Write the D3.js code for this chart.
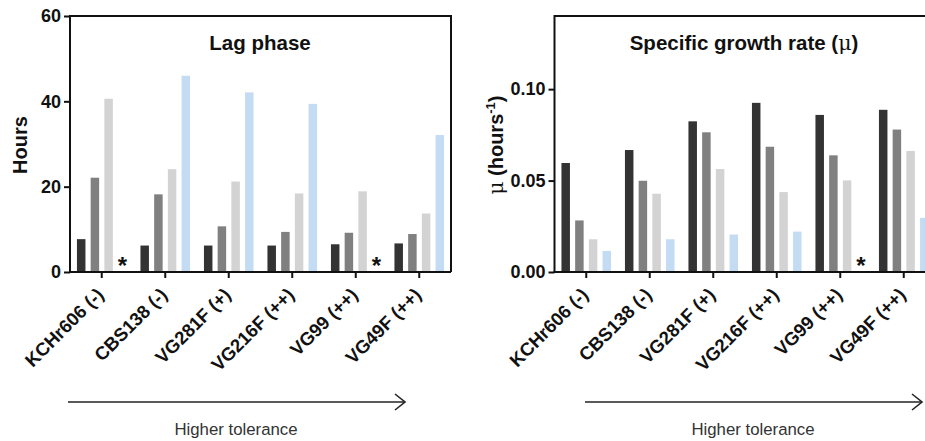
<!DOCTYPE html>
<html>
<head>
<meta charset="utf-8">
<script src="https://cdn.jsdelivr.net/npm/d3@7"></script>
<style>
  html, body { margin: 0; padding: 0; background: #fff; }
  svg { display: block; }
  text { font-family: "Liberation Sans", Arial, sans-serif; }
</style>
</head>
<body>
<svg id="chart" width="925" height="441"></svg>
<script>
// ---- data ----
const strains = ["KCHr606 (-)", "CBS138 (-)", "VG281F (+)", "VG216F (++)", "VG99 (++)", "VG49F (++)"];
const seriesNames = ["Condition 1", "Condition 2", "Condition 3", "Condition 4"];
const seriesColors = ["#333333", "#808080", "#d3d3d3", "#c4dbf4"];
// Lag phase (hours); null = no growth (*)
const lagS1 = [7.7, 6.2, 6.2, 6.2, 6.5, 6.7];
const lagS2 = [22.1, 18.2, 10.7, 9.4, 9.2, 8.9];
const lagS3 = [40.6, 24.1, 21.2, 18.4, 18.9, 13.7];
const lagS4 = [null, 46.0, 42.1, 39.4, null, 32.1];
// Specific growth rate (hours^-1)
const muS1 = [0.0596, 0.0667, 0.0824, 0.0925, 0.0859, 0.0887];
const muS2 = [0.0282, 0.0499, 0.0764, 0.0685, 0.0638, 0.0779];
const muS3 = [0.0179, 0.0428, 0.0563, 0.0437, 0.0501, 0.0662];
const muS4 = [0.0115, 0.0179, 0.0205, 0.0221, null, 0.0296];
const lagTicks = [0, 20, 40, 60];
const muTicks = [0, 0.05, 0.10];

const svg = d3.select("#chart");

function panel(opts) {
  const { x0, x1, yTop, yBot, domain, ticks, fmt, series, title, titleX, yLabel, yLabelX, frameRight, arrow } = opts;
  const g = svg.append("g");
  const x = d3.scaleBand().domain(strains).range([x0, x1]).paddingInner(0).paddingOuter(0);
  const xs = d3.scaleBand().domain(seriesNames).range([0, x.bandwidth()]).paddingInner(0.38).paddingOuter(0.507);
  const y = d3.scaleLinear().domain(domain).range([yBot, yTop]);

  // bars
  seriesNames.forEach((s, si) => {
    const vals = series[si];
    strains.forEach((c, ci) => {
      const v = vals[ci];
      const bx = x(c) + xs(s);
      if (v == null) {
        g.append("text").attr("x", bx + xs.bandwidth() / 2).attr("y", yBot + 2)
          .attr("text-anchor", "middle").attr("font-size", 24).attr("font-weight", "bold")
          .attr("fill", "#111").text("*");
      } else {
        g.append("rect").attr("x", bx).attr("y", y(v)).attr("width", xs.bandwidth())
          .attr("height", y(0) - y(v)).attr("fill", seriesColors[si]);
      }
    });
  });

  // frame (top, right)
  g.append("line").attr("x1", x0).attr("x2", x1).attr("y1", yTop).attr("y2", yTop)
    .attr("stroke", "#111").attr("stroke-width", 2);
  if (frameRight) {
    g.append("line").attr("x1", x1).attr("x2", x1).attr("y1", yTop - 1).attr("y2", yBot)
      .attr("stroke", "#111").attr("stroke-width", 2);
  }

  // y axis
  const ya = g.append("g").attr("transform", `translate(${x0},0)`)
    .call(d3.axisLeft(y).tickValues(ticks).tickFormat(fmt).tickSize(6).tickPadding(3));
  ya.select(".domain").attr("stroke", "#111").attr("stroke-width", 2).attr("d", `M0,${yTop - 1}V${yBot}`);
  ya.selectAll(".tick line").attr("stroke", "#111").attr("stroke-width", 2);
  ya.selectAll(".tick text").attr("font-size", 18).attr("font-weight", "bold")
    .attr("fill", "#111").attr("font-family", "Liberation Sans, Arial, sans-serif");

  // x axis
  const xa = g.append("g").attr("transform", `translate(0,${yBot})`)
    .call(d3.axisBottom(x).tickSize(6).tickPadding(4));
  xa.select(".domain").attr("stroke", "#111").attr("stroke-width", 2).attr("d", `M${x0 - 1},0H${x1}`);
  xa.selectAll(".tick line").attr("stroke", "#111").attr("stroke-width", 2);
  xa.selectAll(".tick text").attr("font-size", 18.5).attr("font-weight", "bold").attr("fill", "#111")
    .attr("font-family", "Liberation Sans, Arial, sans-serif")
    .attr("text-anchor", "end").attr("dy", null)
    .attr("transform", "translate(3,24) rotate(-45)").attr("y", 0).attr("x", 0);

  // title
  g.append("text").attr("x", titleX).attr("y", 50).attr("text-anchor", "middle")
    .attr("font-size", 20.5).attr("font-weight", "bold").attr("fill", "#111").call(title);

  // y label
  g.append("text").attr("transform", `translate(${yLabelX},${(yTop + yBot) / 2 + 1}) rotate(-90)`)
    .attr("text-anchor", "middle").attr("font-size", 20).attr("font-weight", "bold")
    .attr("fill", "#111").call(yLabel);

  // arrow + caption
  const ay = 402;
  g.append("line").attr("x1", arrow[0]).attr("x2", arrow[1]).attr("y1", ay).attr("y2", ay)
    .attr("stroke", "#222").attr("stroke-width", 1.6);
  g.append("path").attr("d", `M${arrow[1] - 10},${ay - 8}L${arrow[1]},${ay}L${arrow[1] - 10},${ay + 8}`)
    .attr("fill", "none").attr("stroke", "#222").attr("stroke-width", 1.6);
  g.append("text").attr("x", arrow[2]).attr("y", 435).attr("text-anchor", "middle")
    .attr("font-family", "Lato, 'Open Sans', sans-serif").attr("font-size", 16.8)
    .attr("fill", "#333").text("Higher tolerance");
}

panel({
  x0: 70, x1: 451, yTop: 16, yBot: 272, domain: [0, 60], ticks: lagTicks, fmt: d3.format("d"),
  series: [lagS1, lagS2, lagS3, lagS4], titleX: 260, frameRight: true,
  title: t => t.text("Lag phase"),
  yLabelX: 27, yLabel: t => t.text("Hours"),
  arrow: [68, 405, 236]
});

panel({
  x0: 554.5, x1: 935.5, yTop: 16, yBot: 272, domain: [0, 0.14], ticks: muTicks, fmt: d3.format(".2f"),
  series: [muS1, muS2, muS3, muS4], titleX: 744, frameRight: true,
  title: t => { t.append("tspan").text("Specific growth rate ("); t.append("tspan").attr("font-family", "DejaVu Serif, serif").attr("font-weight", "normal").text("μ"); t.append("tspan").text(")"); },
  yLabelX: 503,
  yLabel: t => { t.append("tspan").attr("font-family", "DejaVu Serif, serif").attr("font-weight", "normal").text("μ"); t.append("tspan").text(" (hours"); t.append("tspan").attr("dy", -8).attr("font-size", 13).text("-1"); t.append("tspan").attr("dy", 8).text(")"); },
  arrow: [585, 922, 753]
});
</script>
</body>
</html>
